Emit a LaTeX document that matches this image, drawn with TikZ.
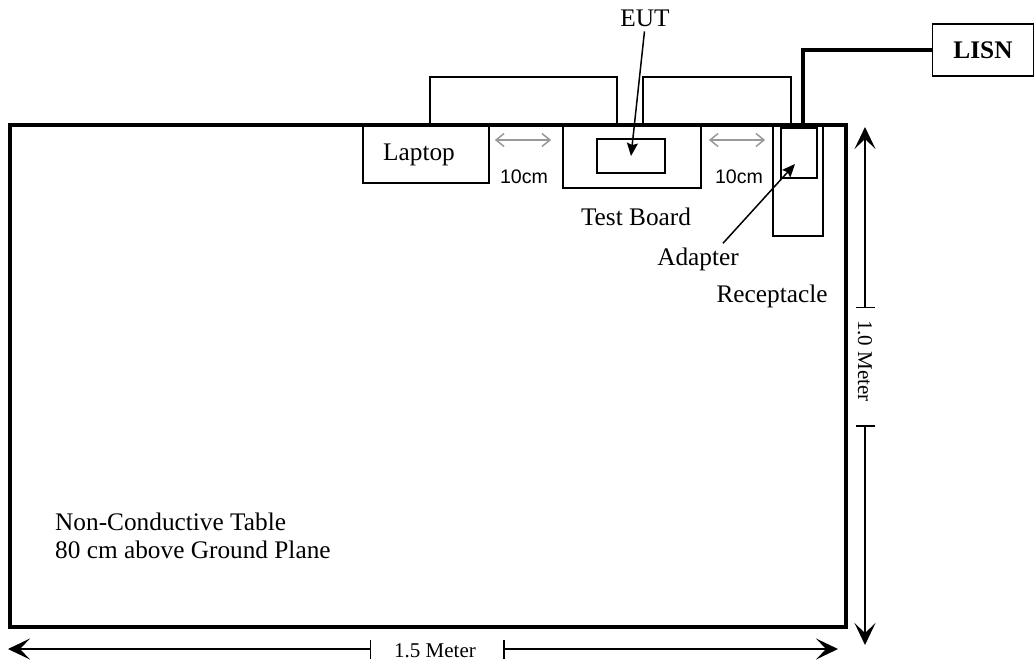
\documentclass[tikz,border=0pt]{standalone}
\usepackage{fontspec}
\setmainfont{Liberation Serif}
\newfontfamily\arialfont{Liberation Sans}
\usetikzlibrary{arrows.meta}

\begin{document}
\begin{tikzpicture}[
        x=1pt, y=-1pt,
        box/.style={
        draw=black, line width=1.7pt,
        inner sep=0pt},
        txt/.style={inner sep=0pt, anchor=base,
        font=\fontsize{25.3}{28}\selectfont},
        smalltxt/.style={inner sep=0pt, anchor=base,
        font=\arialfont\fontsize{19.6}{22}\selectfont},
        dimtxt/.style={inner sep=0pt,
        font=\fontsize{21}{24}\selectfont},
        cable/.style={line width=1.7pt},
        pointer/.style={line width=1.5pt,
        -{Stealth[length=13pt,width=11pt,inset=2pt]}},
        gaparrow/.style={draw=black!40, line width=1.5pt,
        {Straight Barb[length=8pt,width=13pt]}-{Straight Barb[length=8pt,width=13pt]}},
        dimline/.style={line width=1.5pt,
        {Bar[width=19pt]}-{Stealth[length=22pt,width=21pt,inset=10pt]}},
        ]

        \useasboundingbox (0,0) rectangle (1035,665);

        % table
        \node (table) [draw, line width=4pt, inner sep=0pt,
        minimum width=836pt, minimum height=502pt] at (428,376) {};

        \node (laptop) [box, minimum width=126pt, minimum height=58pt] at (426,154) {};
        \node (board) [box, minimum width=138pt, minimum height=63pt] at (632,156.5) {};
        \node (eut) [box, minimum width=68pt, minimum height=34pt] at (631,156) {};
        \node (recept) [box, minimum width=50pt, minimum height=111pt] at (798,180.5) {};
        \node (adapter) [box, minimum width=36pt, minimum height=50pt] at (799,153) {};
        \node (lisn) [box, minimum width=101pt, minimum height=52pt,
        font=\bfseries\fontsize{25.3}{28}\selectfont] at (983,50) {LISN};

        \node (laptoptxt) [txt] at (419,160) {Laptop};
        \node (euttxt) [txt] at (645,26) {EUT};
        \node (boardtxt) [txt] at (636,225) {Test Board};
        \node (adaptertxt) [txt] at (698,265) {Adapter};
        \node (recepttxt) [txt] at (772,302) {Receptacle};
        \node (tabletxt) [txt, anchor=base west, align=left] at (55,558)
        {Non-Conductive Table\\80 cm above Ground Plane};
        \node (gapa) [smalltxt] at (524,183) {10cm};
        \node (gapb) [smalltxt] at (739,183) {10cm};

        % cables
        \draw[cable] ([xshift=4pt]laptop.north) -- ++(0,-47) -| ([xshift=-15pt]board.north);
        \draw[cable] ([xshift=11pt]board.north) -- ++(0,-47) -| ([xshift=-7pt]recept.north);
        \draw[line width=4pt] ([xshift=5pt]recept.north) |- (lisn.west);

        % pointers
        \draw[pointer, shorten <=5pt] (euttxt.south) -- (eut.center);
        \draw[pointer] ([xshift=25pt,yshift=4pt]adaptertxt.north)
        -- ([xshift=-4pt,yshift=-11pt]adapter.center);

        % 10 cm spacing
        \coordinate (gapy) at (0,140);
        \draw[gaparrow, shorten <=5pt, shorten >=11pt] (laptop.east |- gapy) -- (board.west |- gapy);
        \draw[gaparrow, shorten <=7pt, shorten >=7pt] (board.east |- gapy) -- (recept.west |- gapy);

        % dimensions
        \coordinate (wl) at (8,649);
        \coordinate (wa) at (371,649);
        \coordinate (wb) at (503,649);
        \coordinate (wr) at (838,649);
        \draw[dimline] (wa) -- (wl);
        \draw[dimline] (wb) -- (wr);
        \node (wtxt) [dimtxt, anchor=base] at (435,657) {1.5 Meter};

        \coordinate (ht) at (865,127);
        \coordinate (ha) at (865,308);
        \coordinate (hb) at (865,425);
        \coordinate (hd) at (865,645);
        \draw[dimline] (ha) -- (ht);
        \draw[dimline] (hb) -- (hd);
        \node (htxt) [dimtxt, rotate=-90] at (865,361) {1.0 Meter};
\end{tikzpicture}
\end{document}
